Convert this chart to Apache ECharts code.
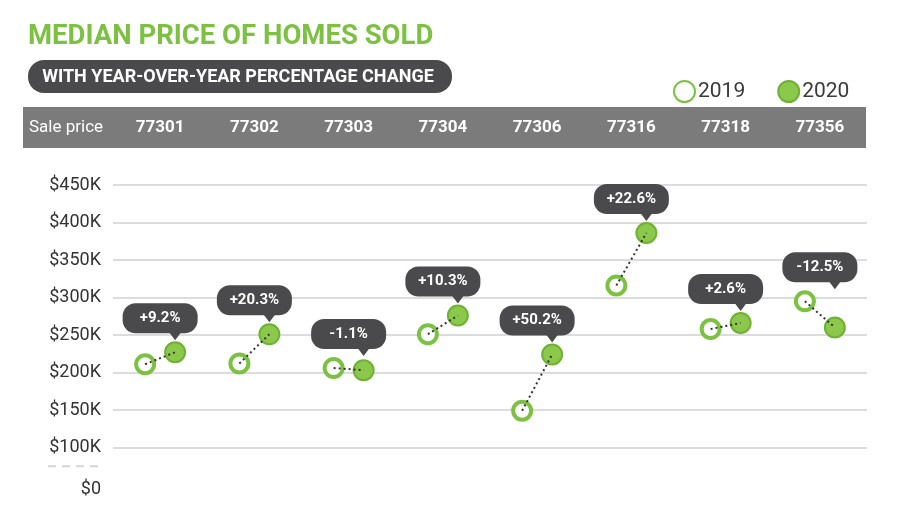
<!DOCTYPE html>
<html>
<head>
<meta charset="utf-8">
<script src="https://cdn.jsdelivr.net/npm/echarts@6/dist/echarts.min.js"></script>
<style>
  html, body { margin: 0; padding: 0; background: #fff; }
  #chart { width: 900px; height: 522px; }
</style>
</head>
<body>
<div id="chart"></div>
<script>
const zipCodes = ["77301", "77302", "77303", "77304", "77306", "77316", "77318", "77356"];
const price2019 = [211000, 212000, 206000, 251000, 149000, 316000, 258000, 295000];
const price2020 = [227000, 251000, 203000, 276000, 224000, 386000, 266000, 260000];
const changeLabels = ["+9.2%", "+20.3%", "-1.1%", "+10.3%", "+50.2%", "+22.6%", "+2.6%", "-12.5%"];
// the axis is broken: the lowest tick stands for $0
const yTickLabels = ["{low|$0}", "$100K", "$150K", "$200K", "$250K", "$300K", "$350K", "$400K", "$450K"];

const green = "#7cc142";
const darkGray = "#4a4a4c";
const font = "Roboto, 'Open Sans', sans-serif";
const pairOffset = 15;

const chart = echarts.init(document.getElementById("chart"));

function renderCallout(params, api) {
  const i = api.value(0);
  const p1 = api.coord([i, api.value(1)]);
  const p2 = api.coord([i, api.value(2)]);
  const cx = p1[0];
  p1[0] -= pairOffset;
  p2[0] += pairOffset;
  const bottom = Math.min(p1[1], p2[1]) - 19;
  const w = 75;
  const h = 30;
  return {
    type: "group",
    children: [
      {
        type: "line",
        shape: { x1: p1[0], y1: p1[1], x2: p2[0], y2: p2[1] },
        style: { stroke: "#333", lineWidth: 2, lineDash: [2, 3] },
        z2: 10,
      },
      {
        type: "rect",
        shape: { x: cx - w / 2, y: bottom - h, width: w, height: h, r: 13 },
        style: { fill: darkGray },
      },
      {
        type: "polygon",
        shape: { points: [[p2[0] - 6, bottom - 1], [p2[0] + 6, bottom - 1], [p2[0], bottom + 7]] },
        style: { fill: darkGray },
      },
      {
        type: "text",
        x: cx,
        y: bottom - h / 2,
        style: {
          text: changeLabels[i],
          fill: "#fff",
          font: "bold 15px " + font,
          align: "center",
          verticalAlign: "middle",
        },
      },
    ],
  };
}

const option = {
  animation: false,
  backgroundColor: "#fff",
  title: {
    text: "MEDIAN PRICE OF HOMES SOLD",
    left: 23,
    top: 18,
    textStyle: { color: green, fontFamily: font, fontWeight: "bold", fontSize: 27.5 },
  },
  legend: {
    left: 668,
    top: 75,
    icon: "circle",
    itemWidth: 21,
    itemHeight: 21,
    itemGap: 32,
    data: ["2019", "2020"],
    textStyle: { color: "#3a3a3a", fontFamily: font, fontSize: 21, padding: [0, 0, 0, -2] },
  },
  graphic: [
    {
      type: "rect",
      z: -10,
      shape: { x: 28, y: 60, width: 424, height: 33, r: 16 },
      style: { fill: darkGray },
    },
    {
      type: "text",
      x: 238,
      y: 77,
      style: {
        text: "WITH YEAR-OVER-YEAR PERCENTAGE CHANGE",
        fill: "#fff",
        font: "bold 18px " + font,
        align: "center",
        verticalAlign: "middle",
      },
    },
    {
      type: "rect",
      z: -10,
      shape: { x: 23, y: 107, width: 843, height: 41 },
      style: { fill: "#7b7b7b" },
    },
    {
      type: "text",
      x: 29,
      y: 128,
      style: {
        text: "Sale price",
        fill: "#fff",
        font: "17px " + font,
        verticalAlign: "middle",
      },
    },
  ],
  grid: { left: 113, right: 33, top: 185, bottom: 37 },
  xAxis: {
    type: "category",
    position: "top",
    data: zipCodes,
    axisLine: { show: false },
    axisTick: { show: false },
    splitLine: { show: false },
    axisLabel: {
      color: "#fff",
      fontFamily: font,
      fontWeight: "bold",
      fontSize: 17,
      margin: 57,
      verticalAlign: "middle",
    },
  },
  yAxis: {
    type: "value",
    min: 50000,
    max: 450000,
    interval: 50000,
    axisLine: { show: false },
    axisTick: { show: false },
    axisLabel: {
      color: "#333",
      fontFamily: font,
      fontSize: 18,
      margin: 12,
      formatter: (value, index) => yTickLabels[index],
      rich: {
        low: { color: "#333", fontFamily: font, fontSize: 18, padding: [8, 0, 0, 0] },
      },
    },
    splitLine: {
      showMinLine: false,
      lineStyle: { color: "#dcdcdc", width: 2 },
    },
  },
  series: [
    {
      name: "2019",
      type: "scatter",
      data: price2019,
      symbol: "circle",
      symbolSize: 18,
      symbolOffset: [-pairOffset, 0],
      itemStyle: { color: "#fff", borderColor: green, borderWidth: 4, opacity: 1 },
      z: 2,
    },
    {
      name: "2020",
      type: "scatter",
      data: price2020,
      symbol: "circle",
      symbolSize: 20,
      symbolOffset: [pairOffset, 0],
      itemStyle: { color: "#8cc84b", borderColor: "#6db232", borderWidth: 2, opacity: 1 },
      z: 2,
    },
    {
      type: "custom",
      renderItem: renderCallout,
      data: zipCodes.map((z, i) => [i, price2019[i], price2020[i]]),
      encode: { x: 0, y: 1 },
      z: 5,
      silent: true,
    },
  ],
};

chart.setOption(option);

// short dashed mark for the axis break, between $100K and $0
const yTop = chart.convertToPixel({ yAxisIndex: 0 }, 100000);
const yLow = chart.convertToPixel({ yAxisIndex: 0 }, 50000);
const yBreak = (yTop + yLow) / 2;
chart.setOption({
  graphic: option.graphic.concat([
    {
      type: "line",
      shape: { x1: 48, y1: yBreak, x2: 100, y2: yBreak },
      style: { stroke: "#d6d6d6", lineWidth: 2, lineDash: [8, 6] },
    },
  ]),
});
</script>
</body>
</html>
